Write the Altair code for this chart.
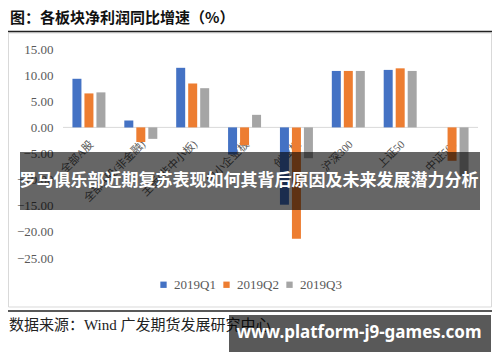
import altair as alt
import pandas as pd

categories = ["全部A股", "全部A股(非金融)", "主板(非中小板)", "中小企业板", "创业板", "沪深300", "上证50", "中证500"]
series = ["2019Q1", "2019Q2", "2019Q3"]
q1 = [9.3, 1.3, 11.4, -5.2, -14.8, 10.8, 11.0, 0.0]
q2 = [6.5, -2.8, 8.4, -3.4, -21.3, 10.8, 11.3, -6.4]
q3 = [6.7, -2.2, 7.5, 2.4, -5.9, 10.8, 10.8, -9.3]
y_ticks = [15, 10, 5, 0, -5, -10, -15, -20, -25]
colors = ["#4472C4", "#ED7D31", "#A5A5A5"]

title_text = "图：各板块净利润同比增速（%）"
source_text = "数据来源：Wind 广发期货发展研究中心"
banner_text = "罗马俱乐部近期复苏表现如何其背后原因及未来发展潜力分析"
watermark_text = "www.platform-j9-games.com"

rows = []
for s, vals in zip(series, [q1, q2, q3]):
    for c, v in zip(categories, vals):
        rows.append({"category": c, "series": s, "value": v})
df = pd.DataFrame(rows)

W, H = 415, 209
OX, OY = 63, 49  # page position of plot origin


def px(x):
    return x - OX


def py(y):
    return y - OY


zero_y = H * 15 / 40
SERIF = "Liberation Serif, 'Noto Sans CJK SC'"
SANS = "'Noto Sans CJK SC', 'Noto Sans'"

one = pd.DataFrame({"k": [0]})

border = alt.Chart(one).mark_rect(fill=None, stroke="#d9d9d9", strokeWidth=1).encode(
    x=alt.value(px(8.5)), x2=alt.value(px(491.5)), y=alt.value(py(33)), y2=alt.value(py(307))
)
top_line = alt.Chart(one).mark_rule(color="#222", strokeWidth=1.5).encode(
    x=alt.value(px(8)), x2=alt.value(px(492)), y=alt.value(py(31.5))
)
bottom_line = alt.Chart(one).mark_rule(color="#222", strokeWidth=1.5).encode(
    x=alt.value(px(8)), x2=alt.value(px(492)), y=alt.value(py(311))
)
title = alt.Chart(one).mark_text(
    align="left", baseline="middle", font=SANS, fontSize=15, fontWeight="bold", color="#111"
).encode(x=alt.value(px(10)), y=alt.value(py(18)), text=alt.value(title_text))
source = alt.Chart(one).mark_text(
    align="left", baseline="middle", font=SERIF, fontSize=15, color="#222"
).encode(x=alt.value(px(9)), y=alt.value(py(325)), text=alt.value(source_text))

zero_rule = alt.Chart(one).mark_rule(color="#d9d9d9", strokeWidth=1).encode(
    x=alt.value(0), x2=alt.value(W), y=alt.value(zero_y)
)

bars = alt.Chart(df).mark_bar().encode(
    x=alt.X(
        "category:N", sort=categories,
        scale=alt.Scale(paddingInner=0.364, paddingOuter=0.182),
        axis=alt.Axis(
            title=None, labelAngle=-45, labelAlign="right", labelBaseline="middle",
            offset=-(H - zero_y), domain=False, ticks=False, labelOverlap=False,
            labelFont=SERIF, labelFontSize=11, labelColor="#595959", labelPadding=15,
            labelOffset=3,
        ),
    ),
    xOffset=alt.XOffset("series:N", sort=series, scale=alt.Scale(paddingInner=0.25, paddingOuter=0)),
    y=alt.Y(
        "value:Q", scale=alt.Scale(domain=[-25, 15], nice=False, zero=False),
        axis=alt.Axis(
            title=None, values=y_ticks, format=".2f", domain=False, ticks=False, grid=False,
            labelOverlap=False,
            labelFont=SERIF, labelFontSize=13, labelColor="#595959", labelPadding=10,
        ),
    ),
    color=alt.Color(
        "series:N", sort=series, scale=alt.Scale(domain=series, range=colors),
        legend=alt.Legend(
            title=None, orient="none", legendX=px(157), legendY=py(278), direction="horizontal",
            symbolType="square", symbolSize=40, symbolStrokeWidth=0,
            labelFont=SERIF, labelFontSize=13, labelColor="#595959", columnPadding=4,
        ),
    ),
)

banner_box = alt.Chart(one).mark_rect(color="black", opacity=0.6).encode(
    x=alt.value(px(20)), x2=alt.value(px(480)), y=alt.value(py(152)), y2=alt.value(py(210))
)
banner = alt.Chart(one).mark_text(
    align="center", baseline="middle", font=SANS, fontSize=17, fontWeight="bold", color="white"
).encode(x=alt.value(px(249)), y=alt.value(py(181)), text=alt.value(banner_text))

wm_box = alt.Chart(one).mark_rect(color="black", opacity=0.65).encode(
    x=alt.value(px(229)), x2=alt.value(px(491)), y=alt.value(py(315)), y2=alt.value(py(352))
)
wm = alt.Chart(one).mark_text(
    align="center", baseline="middle", font="'Noto Sans', 'Open Sans'", fontSize=17, fontWeight="bold", color="white"
).encode(x=alt.value(px(359)), y=alt.value(py(333)), text=alt.value(watermark_text))

chart = alt.layer(
    border, top_line, bottom_line, title, source, zero_rule, bars, banner_box, banner, wm_box, wm
).properties(
    width=W, height=H,
    autosize=alt.AutoSizeParams(type="none"),
    padding={"left": OX - 8, "top": OY - 8, "right": 484 - (OX - 8) - W, "bottom": 346 - (OY - 8) - H},
    background="white",
).configure_view(stroke=None)

chart.save("out.html", embed_options={"renderer": "svg", "actions": False})
